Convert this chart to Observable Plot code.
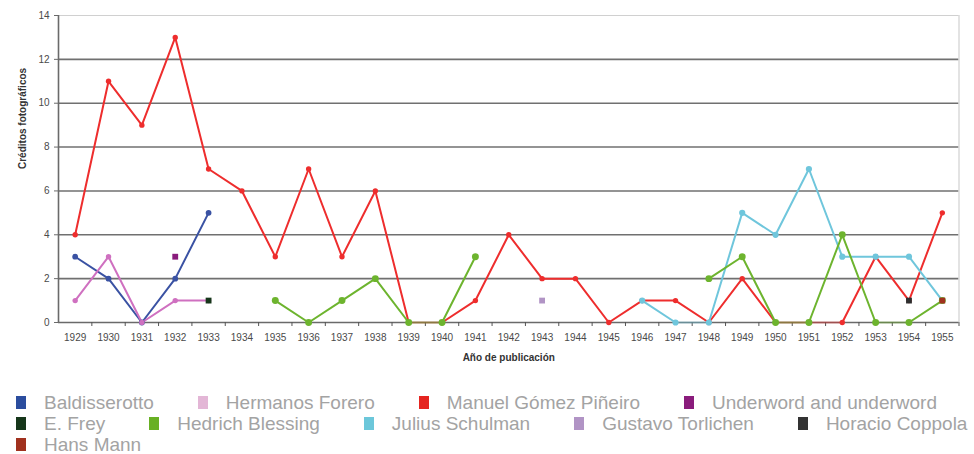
<!DOCTYPE html>
<html><head><meta charset="utf-8">
<script src="https://cdn.jsdelivr.net/npm/d3@7"></script>
<script src="https://cdn.jsdelivr.net/npm/@observablehq/plot@0.6"></script>
<style>
body{margin:0;background:#fff;font-family:"Liberation Sans",Arial,sans-serif;}
#chart{position:absolute;left:0;top:0;}
#legend{position:absolute;left:16px;top:392px;}
.row{display:flex;height:21px;align-items:center;white-space:nowrap}
.item{display:flex;align-items:center;margin-right:44px}
.sw{width:10px;height:13px;margin-right:18px}
.lb{font-size:19px;color:#a3a3a3;line-height:21px}
</style></head><body>
<div id="chart"></div><div id="legend"></div>
<script>
// ---- data ----
const years = [1929,1930,1931,1932,1933,1934,1935,1936,1937,1938,1939,1940,1941,1942,1943,1944,1945,1946,1947,1948,1949,1950,1951,1952,1953,1954,1955];
const yTicks = [0,2,4,6,8,10,12,14];
const seriesNames = ["Baldisserotto","Hermanos Forero","Manuel Gómez Piñeiro","Underword and underword","E. Frey","Hedrich Blessing","Julius Schulman","Gustavo Torlichen","Horacio Coppola","Hans Mann"];
const _ = null;
const baldisserotto = [3,2,0,2,5,_,_,_,_,_,_,_,_,_,_,_,_,_,_,_,_,_,_,_,_,_,_];
const hermanosForero = [1,3,0,1,1,_,_,_,_,_,_,_,_,_,_,_,_,_,_,_,_,_,_,_,_,_,_];
const manuelGomez = [4,11,9,13,7,6,3,7,3,6,0,0,1,4,2,2,0,1,1,0,2,0,0,0,3,1,5];
const underword = [_,_,_,3,_,_,_,_,_,_,_,_,_,_,_,_,_,_,_,_,_,_,_,_,_,_,_];
const eFrey = [_,_,_,_,1,_,_,_,_,_,_,_,_,_,_,_,_,_,_,_,_,_,_,_,_,_,_];
const hedrichBlessing = [_,_,_,_,_,_,1,0,1,2,0,0,3,_,_,_,_,_,_,2,3,0,0,4,0,0,1];
const juliusSchulman = [_,_,_,_,_,_,_,_,_,_,_,_,_,_,_,_,_,1,0,0,5,4,7,3,3,3,1];
const gustavoTorlichen = [_,_,_,_,_,_,_,_,_,_,_,_,_,_,1,_,_,_,_,_,_,_,_,_,_,_,_];
const horacioCoppola = [_,_,_,_,_,_,_,_,_,_,_,_,_,_,_,_,_,_,_,_,_,_,_,_,_,1,_];
const hansMann = [_,_,_,_,_,_,_,_,_,_,_,_,_,_,_,_,_,_,_,_,_,_,_,_,_,_,1];
const legendRows = [[0,1,2,3],[4,5,6,7,8],[9]];

// ---- styles ----
const valuesBySeries = [baldisserotto,hermanosForero,manuelGomez,underword,eFrey,hedrichBlessing,juliusSchulman,gustavoTorlichen,horacioCoppola,hansMann];
const lineColors = ["#3a52a3","#cf70c0","#ee2d2d","#8a1c7c","#16361a","#6db42e","#6fc6dc","#b194c5","#2e2e2e","#a0311e"];
const legendColors = ["#2b4d9e","#e3b6d6","#e52520","#8a1c7c","#16361a","#68b024","#6cc7da","#b194c5","#333333","#a0311e"];
const markerR = [3.5,3,3,4.5,4.5,5,4,4.5,4.5,4.5];
const isSquare = [false,false,false,true,true,false,false,true,true,true];
const drawOrder = [2,6,5,0,1,3,4,7,8,9];

const points = [], segs = [];
drawOrder.forEach(s => {
  const v = valuesBySeries[s];
  years.forEach((yr,i) => {
    if (v[i] != null) points.push({s, x: yr, y: v[i]});
    if (i > 0 && v[i] != null && v[i-1] != null)
      segs.push({s, x1: years[i-1], y1: v[i-1], x2: yr, y2: v[i], zero: v[i]===0 && v[i-1]===0});
  });
});
const bounds = years.map(y => y - 0.5).concat([years[years.length-1] + 0.5]);

const chart = Plot.plot({
  width: 974, height: 380,
  marginLeft: 58, marginRight: 15.5, marginTop: 15, marginBottom: 58,
  x: {type: "linear", domain: [bounds[0], bounds[bounds.length-1]]},
  y: {domain: [0, 14]},
  style: {fontFamily: "Liberation Sans, Arial, sans-serif", fontSize: "10px", color: "#4a4a4a", background: "#fff"},
  marks: [
    Plot.ruleY(yTicks.filter(d => d > 0 && d < 14), {stroke: "#707070", strokeWidth: 1.6}),
    Plot.ruleY([14], {stroke: "#d0d0d0", strokeWidth: 1.2}),
    Plot.ruleX([bounds[bounds.length-1]], {stroke: "#d0d0d0", strokeWidth: 1.2}),
    Plot.ruleX([bounds[0]], {stroke: "#6a6a6a", strokeWidth: 1.6}),
    Plot.ruleY([0], {stroke: "#6a6a6a", strokeWidth: 1.6}),
    Plot.axisY({ticks: yTicks, tickSize: 4, tickPadding: 5, label: null, stroke: "#6a6a6a"}),
    Plot.axisX({ticks: bounds.slice(1), tickSize: 4, tickFormat: () => "", label: null, stroke: "#555"}),
    Plot.axisX({ticks: years, tickSize: 0, tickPadding: 11, tickFormat: d => String(d), label: null}),
    Plot.link(segs, {x1: "x1", y1: "y1", x2: "x2", y2: "y2",
      stroke: d => lineColors[d.s], strokeOpacity: d => d.zero ? 0.4 : 1,
      strokeWidth: 2, strokeLinecap: "round"}),
    Plot.dot(points.filter(d => !isSquare[d.s]), {x: "x", y: "y", r: d => markerR[d.s], fill: d => lineColors[d.s], stroke: "none", sort: null}),
    Plot.dot(points.filter(d => isSquare[d.s]), {x: "x", y: "y", r: d => markerR[d.s], symbol: "square", fill: d => lineColors[d.s], stroke: "none", sort: null}),
    Plot.text(["Créditos fotográficos"], {frameAnchor: "left", dx: -36, rotate: -90, fontWeight: "bold", fontSize: 10, fill: "#333"}),
    Plot.text(["Año de publicación"], {frameAnchor: "bottom", dy: 38, fontWeight: "bold", fontSize: 10, fill: "#333"})
  ]
});
document.getElementById("chart").appendChild(chart);

// ---- legend ----
const leg = document.getElementById("legend");
legendRows.forEach(row => {
  const r = document.createElement("div"); r.className = "row";
  row.forEach(s => {
    const it = document.createElement("div"); it.className = "item";
    const sw = document.createElement("div"); sw.className = "sw"; sw.style.background = legendColors[s];
    const lb = document.createElement("span"); lb.className = "lb"; lb.textContent = seriesNames[s];
    it.appendChild(sw); it.appendChild(lb); r.appendChild(it);
  });
  leg.appendChild(r);
});
</script>
</body></html>
